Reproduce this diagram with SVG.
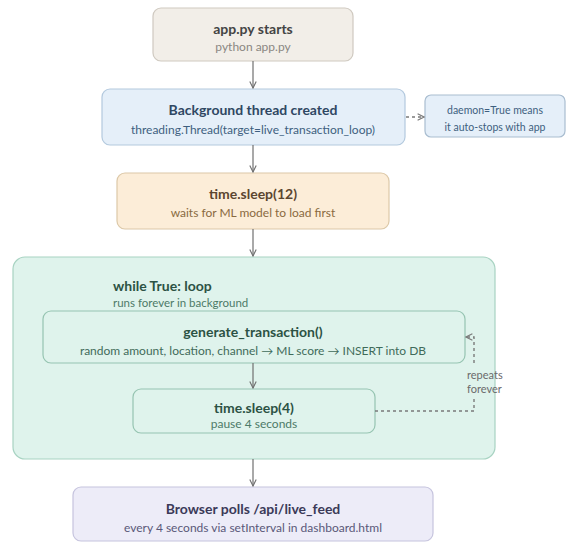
<svg xmlns="http://www.w3.org/2000/svg" width="571" height="544" viewBox="0 0 571 544">
<defs>
<marker id="arr" viewBox="0 0 10 10" refX="9" refY="5" markerWidth="8" markerHeight="8" orient="auto" markerUnits="userSpaceOnUse">
<path d="M1,1 L9,5 L1,9" fill="none" stroke="#707070" stroke-width="1.4"/>
</marker>
<marker id="arrd" viewBox="0 0 10 10" refX="9" refY="5" markerWidth="8" markerHeight="8" orient="auto" markerUnits="userSpaceOnUse">
<path d="M1,1 L9,5 L1,9" fill="none" stroke="#7a7a7a" stroke-width="1.4"/>
</marker>
</defs>
<style>
text{font-family:Lato,"Open Sans","Noto Sans",sans-serif;}
.t{font-size:14px;font-weight:700;text-anchor:middle;}
.s{font-size:12px;text-anchor:middle;}
.n{font-size:10.5px;text-anchor:middle;}
.line{fill:none;stroke:#707070;stroke-width:1.2;}
.dash{fill:none;stroke:#7a7a7a;stroke-width:1.4;stroke-dasharray:3,3;}
</style>
<rect width="571" height="544" fill="#ffffff"/>

<g id="app">
<rect x="153" y="8" width="200" height="53" rx="8" fill="#f2eee8" stroke="#cfc9c0" stroke-width="1.2"/>
<text x="253" y="34" class="t" fill="#444444">app.py starts</text>
<text x="253" y="51" class="s" fill="#8a8682">python app.py</text>
</g>

<g id="thread">
<rect x="102" y="89" width="303" height="56" rx="8" fill="#e5eff9" stroke="#b3c9de" stroke-width="1.2"/>
<text x="253" y="115" class="t" fill="#2f4763">Background thread created</text>
<text x="253" y="134" class="s" fill="#3e5f80">threading.Thread(target=live_transaction_loop)</text>
</g>

<g id="note">
<rect x="425" y="95" width="140" height="42" rx="6" fill="#e5eff9" stroke="#a9bdd0" stroke-width="1.2"/>
<text x="495" y="114" class="n" fill="#3e5f80">daemon=True means</text>
<text x="495" y="131" class="n" fill="#3e5f80">it auto-stops with app</text>
</g>

<g id="sleep12">
<rect x="117" y="173" width="272" height="56" rx="8" fill="#fcedd8" stroke="#dcc8a8" stroke-width="1.2"/>
<text x="253" y="199" class="t" fill="#5b4630">time.sleep(12)</text>
<text x="253" y="217" class="s" fill="#8a6a40">waits for ML model to load first</text>
</g>

<g id="loop">
<rect x="13" y="257" width="482" height="202" rx="12" fill="#dff3ec" stroke="#a8d3c2" stroke-width="1.2"/>
<text x="113" y="291" font-size="14" font-weight="700" fill="#2c5244">while True: loop</text>
<text x="113" y="307" font-size="11.5" fill="#4d7a68">runs forever in background</text>
</g>

<g id="generate">
<rect x="43" y="311" width="422" height="52" rx="8" fill="#dff3ec" stroke="#96c4b1" stroke-width="1.2"/>
<text x="253" y="337" class="t" fill="#2c5244">generate_transaction()</text>
<text x="253" y="355" class="s" fill="#3f6b5a">random amount, location, channel → ML score → INSERT into DB</text>
</g>

<g id="sleep4">
<rect x="133" y="389" width="242" height="44" rx="8" fill="#dff3ec" stroke="#96c4b1" stroke-width="1.2"/>
<text x="254" y="413" class="t" fill="#2c5244">time.sleep(4)</text>
<text x="254" y="428" class="s" fill="#4d7a68">pause 4 seconds</text>
</g>

<g id="browser">
<rect x="73" y="487" width="360" height="54" rx="8" fill="#edecf8" stroke="#c6c4de" stroke-width="1.2"/>
<text x="253" y="514" class="t" fill="#3b3a58">Browser polls /api/live_feed</text>
<text x="253" y="532" class="s" fill="#5a5878">every 4 seconds via setInterval in dashboard.html</text>
</g>

<g id="connectors">
<line x1="253" y1="61" x2="253" y2="88" class="line" marker-end="url(#arr)"/>
<line x1="253" y1="145" x2="253" y2="172" class="line" marker-end="url(#arr)"/>
<line x1="253" y1="229" x2="253" y2="256" class="line" marker-end="url(#arr)"/>
<line x1="253" y1="363" x2="253" y2="388" class="line" marker-end="url(#arr)"/>
<line x1="253" y1="459" x2="253" y2="486" class="line" marker-end="url(#arr)"/>
<line x1="406" y1="117" x2="424" y2="117" class="dash" marker-end="url(#arrd)"/>
<path d="M375,411 H474 V399" class="dash"/>
<path d="M474,363 V337 H466" class="dash" marker-end="url(#arrd)"/>
<text x="467" y="379" font-size="11" fill="#6a6a6a">repeats</text>
<text x="467" y="393" font-size="11" fill="#6a6a6a">forever</text>
</g>
</svg>
